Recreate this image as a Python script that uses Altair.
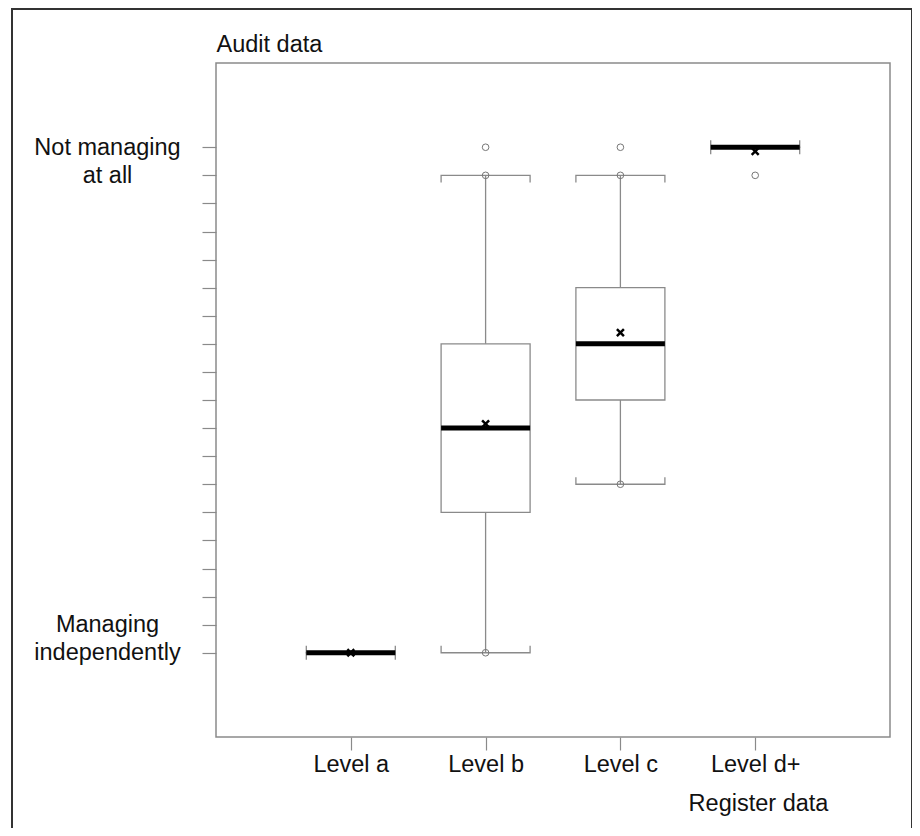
import altair as alt
import pandas as pd

# ---- data ----
levels = ["Level a", "Level b", "Level c", "Level d+"]
whisker_lo = [0, 0, 6, 18]
q1 = [0, 5, 9, 18]
median = [0, 8, 11, 18]
q3 = [0, 11, 13, 18]
whisker_hi = [0, 17, 17, 18]
mean = [0.0, 8.15, 11.4, 17.85]

point_level = ["Level b", "Level b", "Level b", "Level c", "Level c", "Level c", "Level d+"]
point_value = [18, 17, 0, 18, 17, 6, 17]

y_ticks = list(range(0, 19))
y_labels = {18: "Not managing", 17: "at all", 1: "Managing", 0: "independently"}

x_title = "Register data"
y_title = "Audit data"

# ---- styling ----
GRAY = "#8a8a8a"
FONT = "Liberation Sans"
FS = 23.5
BOXW = 89

box_df = pd.DataFrame({"level": levels, "lo": whisker_lo, "q1": q1, "med": median,
                       "q3": q3, "hi": whisker_hi, "mean": mean})
pt_df = pd.DataFrame({"level": point_level, "value": point_value})

label_expr = "".join(f"datum.value == {k} ? '{v}' : " for k, v in y_labels.items()) + "''"

yscale = alt.Scale(domain=[-3, 21], nice=False, zero=False)
xscale = alt.Scale(type="point", padding=1, domain=levels)

x_enc = alt.X("level:N", scale=xscale, sort=levels, title=x_title,
              axis=alt.Axis(tickSize=13, tickColor=GRAY, tickWidth=1.2, domain=False, grid=False,
                            labelPadding=2, labelFontSize=FS, labelAngle=0, labelColor="#111",
                            labelFont=FONT, titleFont=FONT,
                            titleX=542, titleY=73, titleAlign="center", titleBaseline="alphabetic",
                            titleFontSize=FS, titleFontWeight="normal", titleColor="#111"))

y_axis = alt.Axis(values=y_ticks, tickCount=len(y_ticks) + 5, labelExpr=label_expr,
                  tickSize=14, tickColor=GRAY, tickWidth=1.2,
                  domain=False, grid=False, labelAlign="center", labelBaseline="middle",
                  labelPadding=95, labelFontSize=FS, labelColor="#111", labelFont=FONT,
                  labelOverlap=False, labelBound=False,
                  titleAngle=0, titleX=0, titleY=-12, titleAlign="left", titleBaseline="alphabetic",
                  titleFontSize=FS, titleFontWeight="normal", titleFont=FONT, titleColor="#111")

TOP_CAP = "M-1,0.16L-1,0L1,0L1,0.16"
BOT_CAP = "M-1,-0.16L-1,0L1,0L1,-0.16"
X_SHAPE = "M-1,-1L1,1M-1,1L1,-1"

base = alt.Chart(box_df)

frame = alt.Chart(pd.DataFrame({"f": [0]})).mark_rect(
    filled=False, stroke="#333", strokeWidth=2
).encode(x=alt.value(-204), x2=alt.value(696), y=alt.value(-54), y2=alt.value(800))

whisk = base.mark_rule(color=GRAY, strokeWidth=1.3).encode(
    x=x_enc, y=alt.Y("lo:Q", scale=yscale, axis=y_axis, title=y_title), y2="hi:Q")

box = base.mark_bar(size=BOXW, fill="white", stroke=GRAY, strokeWidth=1.3).encode(
    x=x_enc, y="q1:Q", y2="q3:Q")

cap_top = base.mark_point(shape=TOP_CAP, size=BOXW * BOXW, filled=False, color=GRAY,
                          strokeWidth=1.3, opacity=1).encode(x=x_enc, y="hi:Q")
cap_bot = base.mark_point(shape=BOT_CAP, size=BOXW * BOXW, filled=False, color=GRAY,
                          strokeWidth=1.3, opacity=1).encode(x=x_enc, y="lo:Q")

med = base.mark_tick(size=BOXW, thickness=5, color="black", opacity=1).encode(x=x_enc, y="med:Q")

mean_pt = base.mark_point(shape=X_SHAPE, size=49, filled=False, color="black",
                          strokeWidth=2.5, opacity=1).encode(x=x_enc, y="mean:Q")

pts = alt.Chart(pt_df).mark_point(shape="circle", size=44, filled=False, color="#777",
                                  strokeWidth=1, opacity=1).encode(x=x_enc, y="value:Q")

chart = alt.layer(frame, whisk, box, cap_top, cap_bot, med, mean_pt, pts).properties(
    width=674, height=674,
    autosize=alt.AutoSizeParams(type="none"),
    padding={"left": 208, "top": 55, "right": 22, "bottom": 91},
    background="white",
).configure_view(stroke=GRAY, strokeWidth=1.5)

chart.save("out.html", embed_options={"renderer": "svg", "actions": False})
